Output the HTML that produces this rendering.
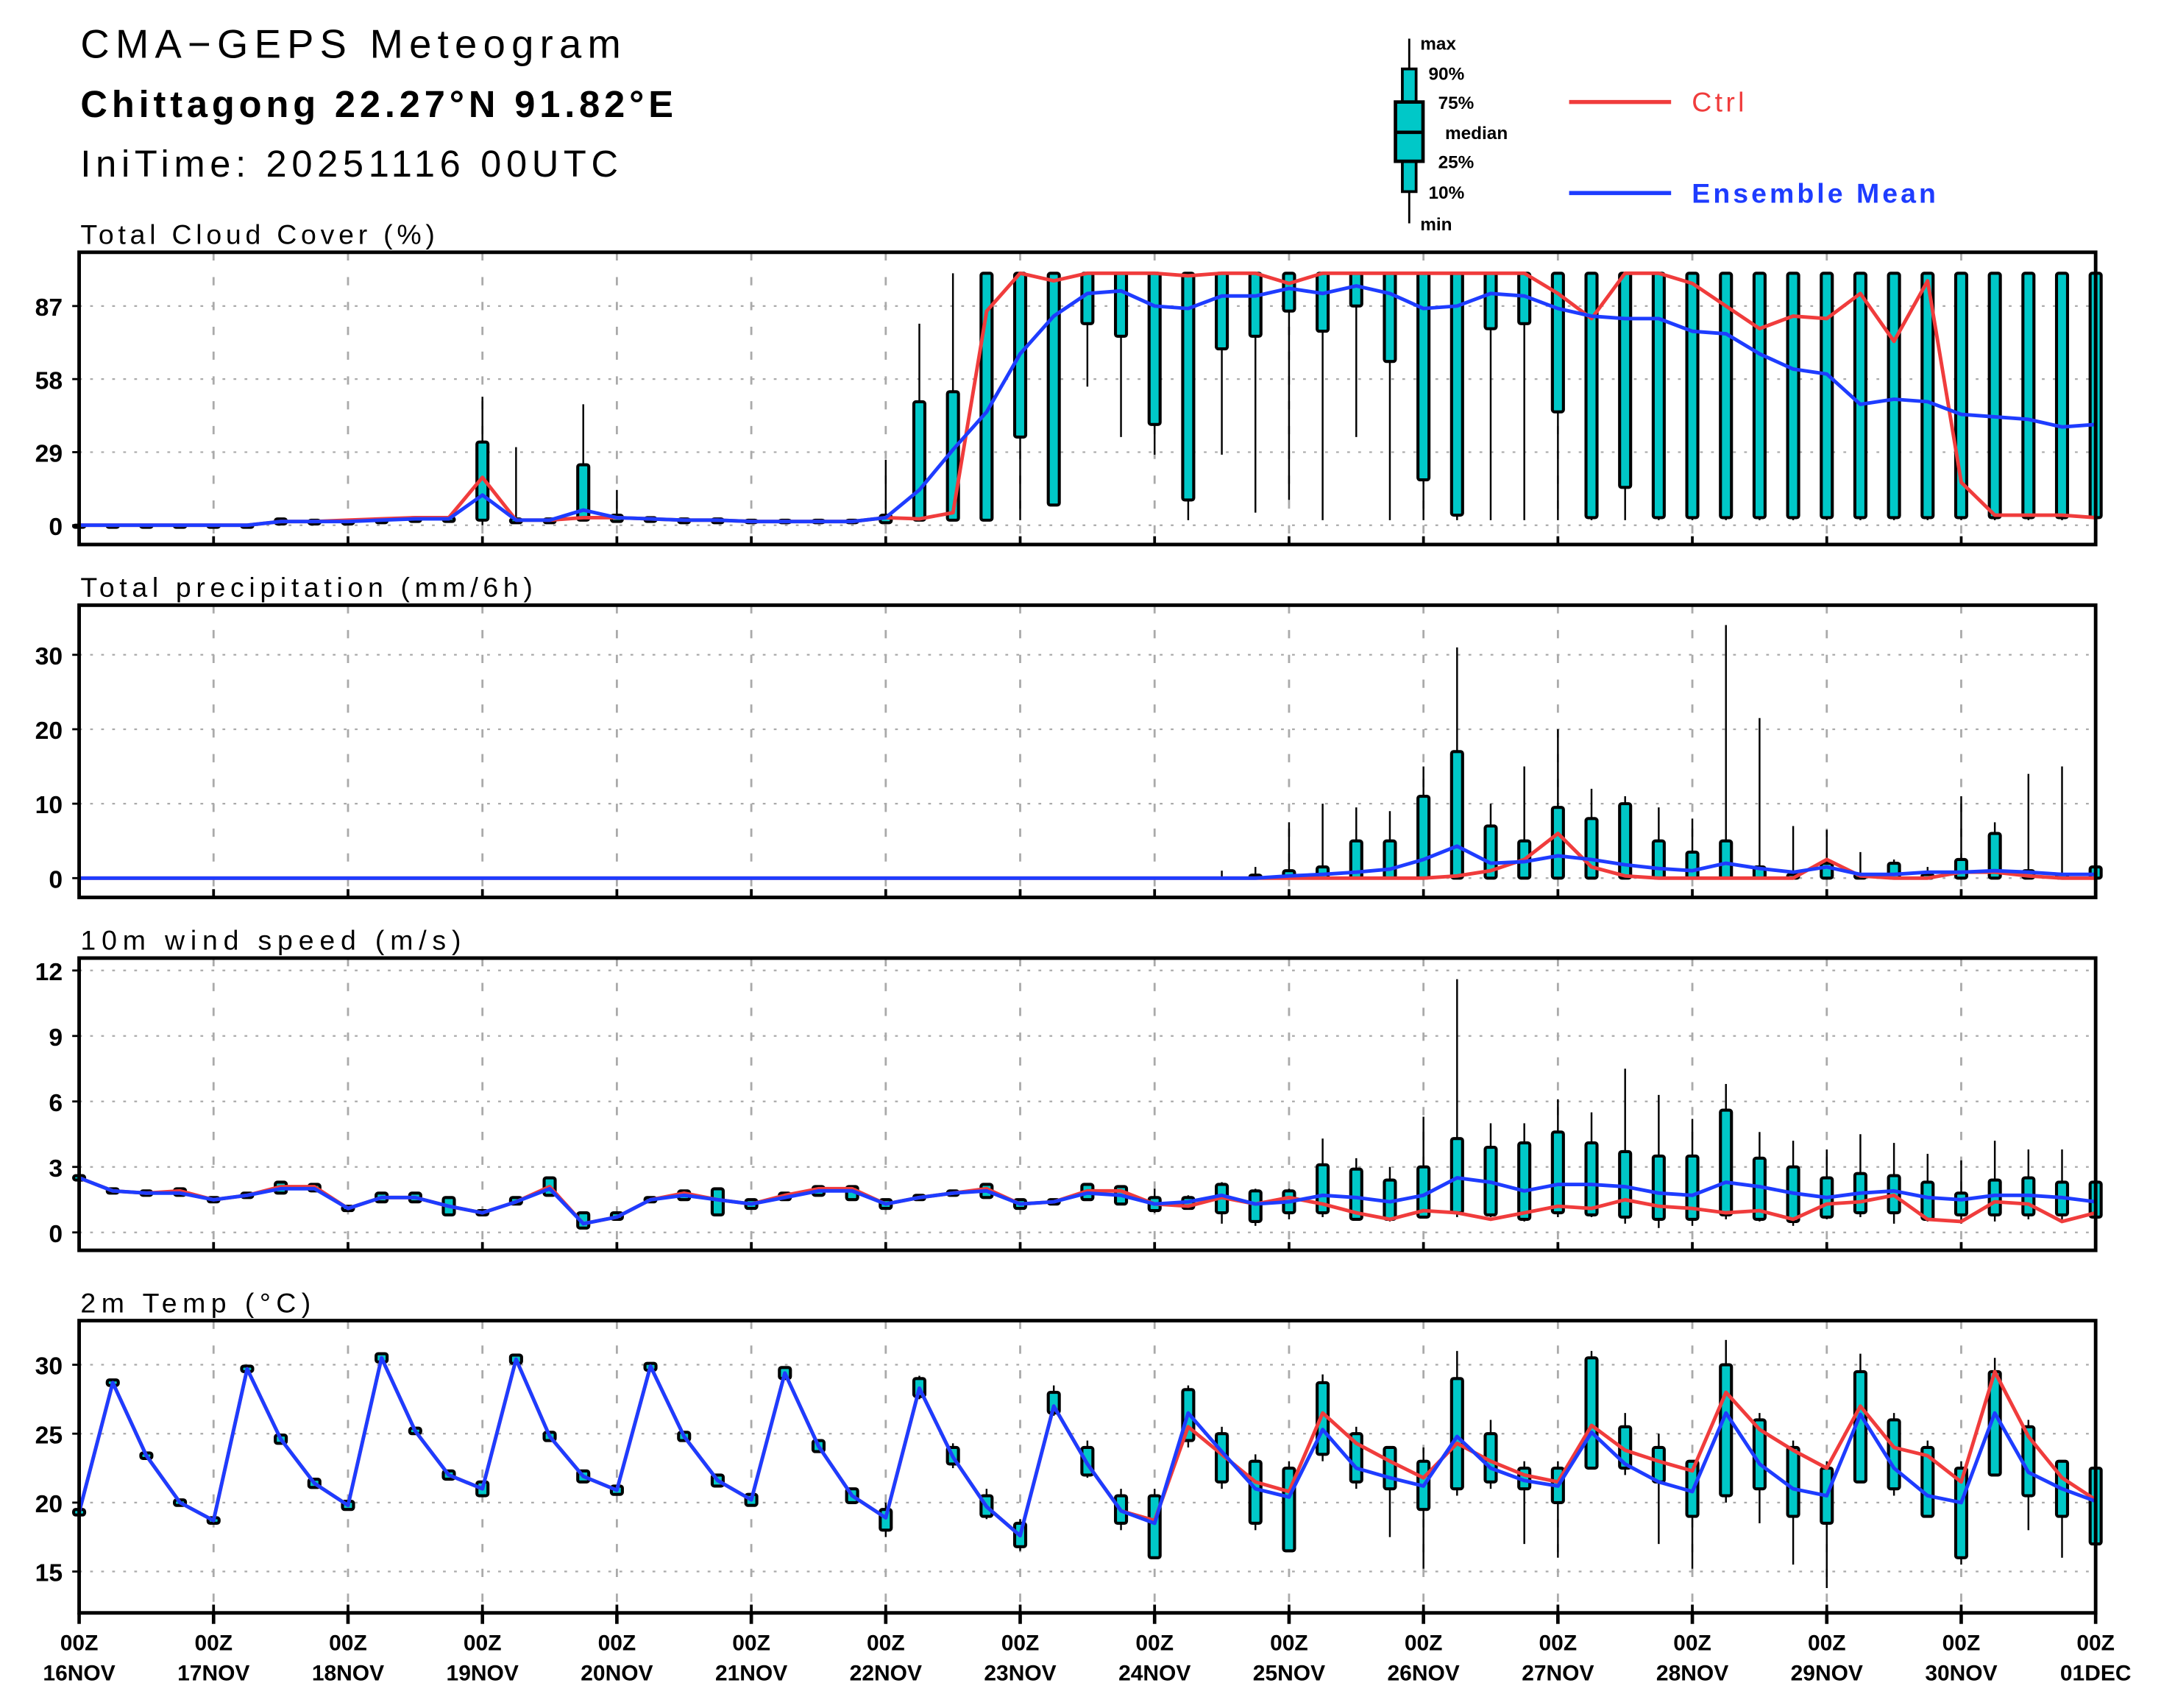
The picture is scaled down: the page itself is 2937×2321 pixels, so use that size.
<!DOCTYPE html>
<html><head><meta charset="utf-8"><style>
html,body{margin:0;padding:0;background:#fff}
svg{display:block}
text{font-family:"Liberation Sans",sans-serif}
</style></head><body>
<svg id="chart" xmlns="http://www.w3.org/2000/svg" width="2937" height="2321" viewBox="0 0 1567 1239">
<rect x="0" y="0" width="1567" height="1239" fill="#fff"/>
<g>
<text x="58" y="42" font-size="29" textLength="392" lengthAdjust="spacing">CMA−GEPS Meteogram</text>
<text x="58" y="85" font-size="27" font-weight="bold" textLength="430" lengthAdjust="spacing">Chittagong 22.27°N 91.82°E</text>
<text x="58" y="128" font-size="27" textLength="390" lengthAdjust="spacing">IniTime: 20251116 00UTC</text>
</g>
<g>
<line x1="1022" y1="28" x2="1022" y2="162" stroke="#000" stroke-width="1.5"/>
<rect x="1017" y="50" width="10" height="89" fill="#00c8c8" stroke="#000" stroke-width="2"/>
<rect x="1012" y="74" width="20" height="43" fill="#00c8c8" stroke="#000" stroke-width="2.5"/>
<line x1="1012" y1="96" x2="1032" y2="96" stroke="#000" stroke-width="2.5"/>
<g font-size="13" font-weight="bold">
<text x="1030" y="36">max</text><text x="1036" y="58">90%</text><text x="1043" y="79">75%</text>
<text x="1048" y="101">median</text><text x="1043" y="122">25%</text><text x="1036" y="144">10%</text><text x="1030" y="167">min</text>
</g>
<line x1="1138" y1="74" x2="1212" y2="74" stroke="#f03c3c" stroke-width="3"/>
<text x="1227" y="81" font-size="20" fill="#f03c3c" textLength="38" lengthAdjust="spacing">Ctrl</text>
<line x1="1138" y1="140" x2="1212" y2="140" stroke="#1e3cff" stroke-width="3"/>
<text x="1227" y="147" font-size="20" font-weight="bold" fill="#1e3cff" textLength="177" lengthAdjust="spacing">Ensemble Mean</text>
</g>
<g id="plots"></g>
</svg>
<script>
const dayLabels = ["16NOV","17NOV","18NOV","19NOV","20NOV","21NOV","22NOV","23NOV","24NOV","25NOV","26NOV","27NOV","28NOV","29NOV","30NOV","01DEC"];
const N = null;
const cloudMean = [0,0,0,0,0,0,1.5,1.5,1.5,2, 2.5,2.5,12,2,2,6,3,2.5,2,2, 1.5,1.5,1.5,1.5,3,14,30,45,68,83, 92,93,87,86,91,91,94,92,95,92, 86,87,92,91,86,83,82,82,77,76, 68,62,60,48,50,49,44,43,42,39, 40];
const cloudCtrl = [0,0,0,0,0,0,1.5,1.5,2,2.5, 3,3,19,2,2,3,3,2.5,2,2, 1.5,1.5,1.5,1.5,3,2.5,5,85,100,97, 100,100,100,99,100,100,96,100,100,100, 100,100,100,100,92,82,100,100,96,87, 78,83,82,92,73,97,17,4,4,4, 3];
const cloudHi = [0,0,0,0,0,0,2.5,2,2,2.5, 3,3,33,2.5,2.5,24,4,3,2.5,2.5, 2,2,2,2,4,49,53,100,100,100, 100,100,100,100,100,100,100,100,100,100, 100,100,100,100,100,100,100,100,100,100, 100,100,100,100,100,100,100,100,100,100, 100];
const cloudLo = [0,0,0,0,0,0,0.5,0.5,0.5,1, 1.5,1.5,2,1,1,2,1.5,1.5,1,1, 1,1,1,1,1,2,2,2,35,8, 80,75,40,10,70,75,85,77,87,65, 18,4,78,80,45,3,15,3,3,3, 3,3,3,3,3,3,3,3,3,3, 3];
const cloudMax = [N,N,N,N,N,N,N,N,N,N, N,N,51,31,N,48,14,N,N,N, N,N,N,N,26,80,100,100,100,100, 100,100,100,100,100,100,100,100,100,100, 100,100,100,100,100,100,100,100,100,100, 100,100,100,100,100,100,100,100,100,100, 100];
const cloudMin = [N,N,N,N,N,N,N,N,N,N, N,N,0,N,N,N,N,N,N,N, N,N,N,N,N,2,2,2,2,8, 55,35,28,2,28,5,10,2,35,2, 2,2,2,2,2,2,2,2,2,2, 2,2,2,2,2,2,2,2,2,2, 2];
const precMean = [0,0,0,0,0,0,0,0,0,0, 0,0,0,0,0,0,0,0,0,0, 0,0,0,0,0,0,0,0,0,0, 0,0,0,0,0,0,0.3,0.5,0.8,1.2, 2.5,4.3,2.0,2.2,3.0,2.5,1.8,1.3,1.0,2.0, 1.3,0.8,1.5,0.5,0.5,0.8,0.8,1.0,0.8,0.5, 0.5];
const precCtrl = [0,0,0,0,0,0,0,0,0,0, 0,0,0,0,0,0,0,0,0,0, 0,0,0,0,0,0,0,0,0,0, 0,0,0,0,0,0,0,0,0,0, 0,0.3,1.0,2.5,6.0,1.5,0.3,0,0,0, 0,0,2.5,0.3,0,0,0.8,0.8,0.3,0, 0];
const precHi = [0,0,0,0,0,0,0,0,0,0, 0,0,0,0,0,0,0,0,0,0, 0,0,0,0,0,0,0,0,0,0, 0,0,0,0,0,0.4,1,1.5,5,5, 11,17,7,5,9.5,8,10,5,3.5,5, 1.5,0.5,2,0.5,2,0.5,2.5,6,1,0.5, 1.5];
const precMax = [N,N,N,N,N,N,N,N,N,N, N,N,N,N,N,N,N,N,N,N, N,N,N,N,N,N,N,N,N,N, N,N,N,N,1,1.5,7.5,10,9.5,9, 15,31,10,15,20,12,11,9.5,8,34, 21.5,7,6.5,3.5,2.5,1.5,11,7.5,14,15, 2];
const windMean = [2.5,1.9,1.8,1.8,1.5,1.7,2.0,2.0,1.1,1.6, 1.6,1.2,0.9,1.4,2.0,0.4,0.7,1.5,1.7,1.5, 1.3,1.6,1.9,1.9,1.3,1.6,1.8,1.9,1.3,1.4, 1.8,1.7,1.3,1.4,1.7,1.3,1.4,1.7,1.6,1.4, 1.7,2.5,2.3,1.9,2.2,2.2,2.1,1.8,1.7,2.3, 2.1,1.8,1.6,1.8,1.9,1.6,1.5,1.7,1.7,1.6, 1.4];
const windCtrl = [2.5,1.9,1.8,1.9,1.5,1.7,2.1,2.1,1.1,1.6, 1.6,1.2,0.9,1.4,2.1,0.4,0.7,1.5,1.8,1.5, 1.3,1.7,2.0,2.0,1.3,1.6,1.8,2.0,1.3,1.4, 1.9,1.9,1.3,1.2,1.6,1.3,1.6,1.3,0.9,0.6, 1.0,0.9,0.6,0.9,1.2,1.1,1.5,1.2,1.1,0.9, 1.0,0.6,1.3,1.4,1.7,0.6,0.5,1.4,1.3,0.5, 0.9];
const windHi = [2.6,2.0,1.9,2.0,1.6,1.8,2.3,2.2,1.2,1.8, 1.8,1.6,1.0,1.6,2.5,0.9,0.9,1.6,1.9,2.0, 1.5,1.8,2.1,2.1,1.5,1.7,1.9,2.2,1.5,1.5, 2.2,2.1,1.6,1.6,2.2,1.9,1.9,3.1,2.9,2.4, 3.0,4.3,3.9,4.1,4.6,4.1,3.7,3.5,3.5,5.6, 3.4,3.0,2.5,2.7,2.6,2.3,1.8,2.4,2.5,2.3, 2.3];
const windLo = [2.4,1.8,1.7,1.7,1.4,1.6,1.8,1.9,1.0,1.4, 1.4,0.8,0.8,1.3,1.7,0.2,0.6,1.4,1.5,0.8, 1.1,1.5,1.7,1.5,1.1,1.5,1.7,1.6,1.1,1.3, 1.5,1.3,1.0,1.1,0.9,0.5,0.9,0.9,0.6,0.6, 0.7,0.9,0.8,0.6,0.9,0.8,0.7,0.6,0.6,0.8, 0.6,0.5,0.7,0.9,0.9,0.6,0.8,0.8,0.8,0.8, 0.7];
const windMax = [N,N,N,N,N,N,N,N,N,N, N,N,N,N,N,N,N,N,N,N, N,N,N,N,N,N,N,N,N,N, N,N,2.0,1.7,2.3,2.0,2.0,4.3,3.4,3.0, 5.3,11.6,5.0,5.0,6.1,5.5,7.5,6.3,5.2,6.8, 4.6,4.2,3.8,4.5,4.1,3.6,3.3,4.2,3.8,3.8, 2.5];
const windMin = [N,N,N,N,N,N,N,N,N,N, N,N,N,N,N,N,N,N,N,N, N,N,N,N,N,N,N,N,N,N, N,N,0.9,1.1,0.4,0.3,0.6,0.7,0.6,0.5, 0.7,0.7,0.7,0.5,0.7,0.7,0.4,0.2,0.3,0.6, 0.5,0.3,0.6,0.7,0.4,0.5,0.4,0.5,0.6,0.6, 0.5];
const tempMean = [19.3,28.7,23.4,20.0,18.7,29.7,24.6,21.4,19.8,30.5, 25.2,22.0,21.0,30.4,24.8,21.9,20.9,29.9,24.8,21.6, 20.2,29.4,24.1,20.5,18.9,28.3,23.3,19.7,17.6,27.0, 22.8,19.4,18.5,26.5,23.7,21.0,20.4,25.3,22.5,21.8, 21.2,24.8,22.5,21.6,21.2,25.1,22.8,21.5,20.8,26.5, 22.8,21.0,20.5,26.4,22.5,20.5,20.0,26.5,22.2,21.0, 20.1];
const tempCtrl = [19.3,28.7,23.4,20.0,18.7,29.7,24.6,21.4,19.8,30.5, 25.2,22.0,21.0,30.4,24.8,21.9,20.9,29.9,24.8,21.6, 20.2,29.4,24.1,20.5,18.9,28.3,23.3,19.7,17.6,27.0, 22.8,19.4,18.7,25.5,23.5,21.5,20.8,26.5,24.3,23.0, 21.8,24.3,23.0,22.0,21.5,25.6,23.8,23.0,22.3,28.0, 25.3,23.8,22.5,27.0,24.0,23.4,21.5,29.5,24.8,21.8, 20.2];
const tempHi = [19.5,28.9,23.6,20.2,18.9,29.9,24.9,21.7,20.1,30.8, 25.4,22.3,21.5,30.7,25.1,22.3,21.2,30.1,25.1,22.0, 20.6,29.8,24.5,21.0,19.5,29.0,24.0,20.5,18.5,28.0, 24.0,20.5,20.5,28.2,25.0,23.0,22.5,28.7,25.0,24.0, 23.0,29.0,25.0,22.5,22.5,30.5,25.5,24.0,23.0,30.0, 26.0,24.0,22.5,29.5,26.0,24.0,22.5,29.5,25.5,23.0, 22.5];
const tempLo = [19.1,28.5,23.2,19.8,18.5,29.5,24.3,21.1,19.5,30.2, 25.0,21.7,20.5,30.1,24.5,21.5,20.6,29.6,24.5,21.2, 19.8,29.0,23.7,20.0,18.0,27.7,22.8,19.0,16.8,26.5, 22.0,18.5,16.0,24.5,21.5,18.5,16.5,23.5,21.5,21.0, 19.5,21.0,21.5,21.0,20.0,22.5,22.5,21.5,19.0,20.5, 21.0,19.0,18.5,21.5,21.0,19.0,16.0,22.0,20.5,19.0, 17.0];
const tempMax = [N,N,N,N,N,N,N,N,N,N, N,N,N,N,N,N,N,N,N,N, N,N,N,N,20,29.2,24.3,21,18.8,28.5, 24.5,21,21,28.5,25.5,23.5,23,29.3,25.5,24, 24,31,26,23,23,31,26.5,25,23,31.8, 26.5,24.5,23,30.8,26.5,24.5,23,30.5,26,23, 22.5];
const tempMin = [N,N,N,N,N,N,N,N,N,N, N,N,N,N,N,N,N,N,N,N, N,N,N,N,17.5,27.5,22.5,18.8,16.5,26.3, 21.8,18,16,24,21,18,16.5,23,21,17.5, 15.2,20.5,21,17,16,22.5,22,17,15.2,20, 18.5,15.5,13.8,21.5,20.5,19,15.5,22,18,16, 17];
const cloudTicks = [0,29,58,87];
const precTicks = [0,10,20,30];
const windTicks = [0,3,6,9,12];
const tempTicks = [15,20,25,30];

const X0 = 57, X1 = 1520, NSTEP = 60;
function xPos(i){ return X0 + (X1 - X0) * i / NSTEP; }
const SVGNS = "http://www.w3.org/2000/svg";
const plots = document.getElementById('plots');
function mk(tag, attrs, parent){
  const e = document.createElementNS(SVGNS, tag);
  for (const k in attrs) e.setAttribute(k, attrs[k]);
  (parent || plots).appendChild(e);
  return e;
}
const panels = [
  {name:'cloud', title:'Total Cloud Cover (%)', tlen:257, top:183, bottom:395, y0:381, vmin:0, vmax:29, y1:328, ticks:cloudTicks,
   mean:cloudMean, ctrl:cloudCtrl, hi:cloudHi, lo:cloudLo, mx:cloudMax, mn:cloudMin},
  {name:'precip', title:'Total precipitation (mm/6h)', tlen:328, top:439, bottom:651, y0:637, vmin:0, vmax:10, y1:583, ticks:precTicks,
   mean:precMean, ctrl:precCtrl, hi:precHi, lo:null, mx:precMax, mn:null},
  {name:'wind', title:'10m wind speed (m/s)', tlen:276, top:695, bottom:907, y0:894, vmin:0, vmax:3, y1:846.5, ticks:windTicks,
   mean:windMean, ctrl:windCtrl, hi:windHi, lo:windLo, mx:windMax, mn:windMin},
  {name:'temp', title:'2m Temp (°C)', tlen:167, top:958, bottom:1170, y0:1140, vmin:15, vmax:20, y1:1090, ticks:tempTicks,
   mean:tempMean, ctrl:tempCtrl, hi:tempHi, lo:tempLo, mx:tempMax, mn:tempMin}
];

panels.forEach(function(p){
  const yPos = function(v){ return p.y0 + (v - p.vmin) * (p.y1 - p.y0) / (p.vmax - p.vmin); };
  const g = mk('g', {});
  
  
  const t = mk('text', {x:58, y:p.top - 6, 'font-size':20, textLength:p.tlen, lengthAdjust:'spacing'}, g);
  t.textContent = p.title;
  
  
  for (let d = 1; d < 15; d++){
    const gl = mk('line', {x1:xPos(d*4), x2:xPos(d*4), y1:p.top, y2:p.bottom, stroke:'#aaa', 'stroke-width':1.5, 'stroke-dasharray':'6,12'}, g);
    
    
  }
  p.ticks.forEach(function(tv){
    const yy = yPos(tv);
    const hl = mk('line', {x1:X0, x2:X1, y1:yy, y2:yy, stroke:'#aaa', 'stroke-width':1.2, 'stroke-dasharray':'2,6'}, g);
    
    
    mk('line', {x1:X0-5, x2:X0, y1:yy, y2:yy, stroke:'#000', 'stroke-width':1.5}, g);
    const tl = mk('text', {x:X0-12, y:yy+7, 'font-size':18, 'font-weight':'bold', 'text-anchor':'end'}, g);
    tl.textContent = tv;
    
    
  });
  for (let i = 0; i <= NSTEP; i++){
    const x = xPos(i);
    const hi = p.hi[i];
    const lo = p.lo ? p.lo[i] : 0;
    if (p.mx[i] !== null){
      const w = mk('line', {x1:x, x2:x, y1:yPos(p.mx[i]), y2:yPos(hi), stroke:'#000', 'stroke-width':1.3}, g);
      
      
    }
    if (p.mn && p.mn[i] !== null){
      const w2 = mk('line', {x1:x, x2:x, y1:yPos(lo), y2:yPos(p.mn[i]), stroke:'#000', 'stroke-width':1.3}, g);
      
      
    }
    if (p.name === 'precip' && hi < 0.3) continue;
    const yt = yPos(hi), yb = yPos(lo);
    const b = mk('rect', {x:x-4, y:yt, width:8, height:Math.max(1.5, yb-yt), fill:'#00c8c8', stroke:'#000', 'stroke-width':2.2, rx:1.5}, g);
    
    
  }
  function path(arr){ return arr.map(function(v,i){ return (i?'L':'M') + xPos(i).toFixed(1) + ',' + yPos(v).toFixed(1); }).join(''); }
  const cl = mk('path', {d:path(p.ctrl), fill:'none', stroke:'#f03c3c', 'stroke-width':2.6, 'stroke-linejoin':'round'}, g);
  
  
  const ml = mk('path', {d:path(p.mean), fill:'none', stroke:'#1e3cff', 'stroke-width':2.6, 'stroke-linejoin':'round'}, g);
  
  
  const fr = mk('rect', {x:X0, y:p.top, width:X1-X0, height:p.bottom-p.top, fill:'none', stroke:'#000', 'stroke-width':2.6}, g);
  
  
  for (let d = 0; d <= 15; d++){
    mk('line', {x1:xPos(d*4), x2:xPos(d*4), y1:p.bottom, y2:p.bottom-6, stroke:'#000', 'stroke-width':2}, g);
  }
});
dayLabels.forEach(function(lab, d){
  const x = xPos(d*4);
  mk('line', {x1:x, x2:x, y1:1170, y2:1178, stroke:'#000', 'stroke-width':2.5});
  const a = mk('text', {x:x, y:1197, 'font-size':16, 'font-weight':'bold', 'text-anchor':'middle'});
  a.textContent = '00Z';
  
  
  const b = mk('text', {x:x, y:1219, 'font-size':16, 'font-weight':'bold', 'text-anchor':'middle'});
  b.textContent = lab;
  
  
});
</script>
</body></html>
